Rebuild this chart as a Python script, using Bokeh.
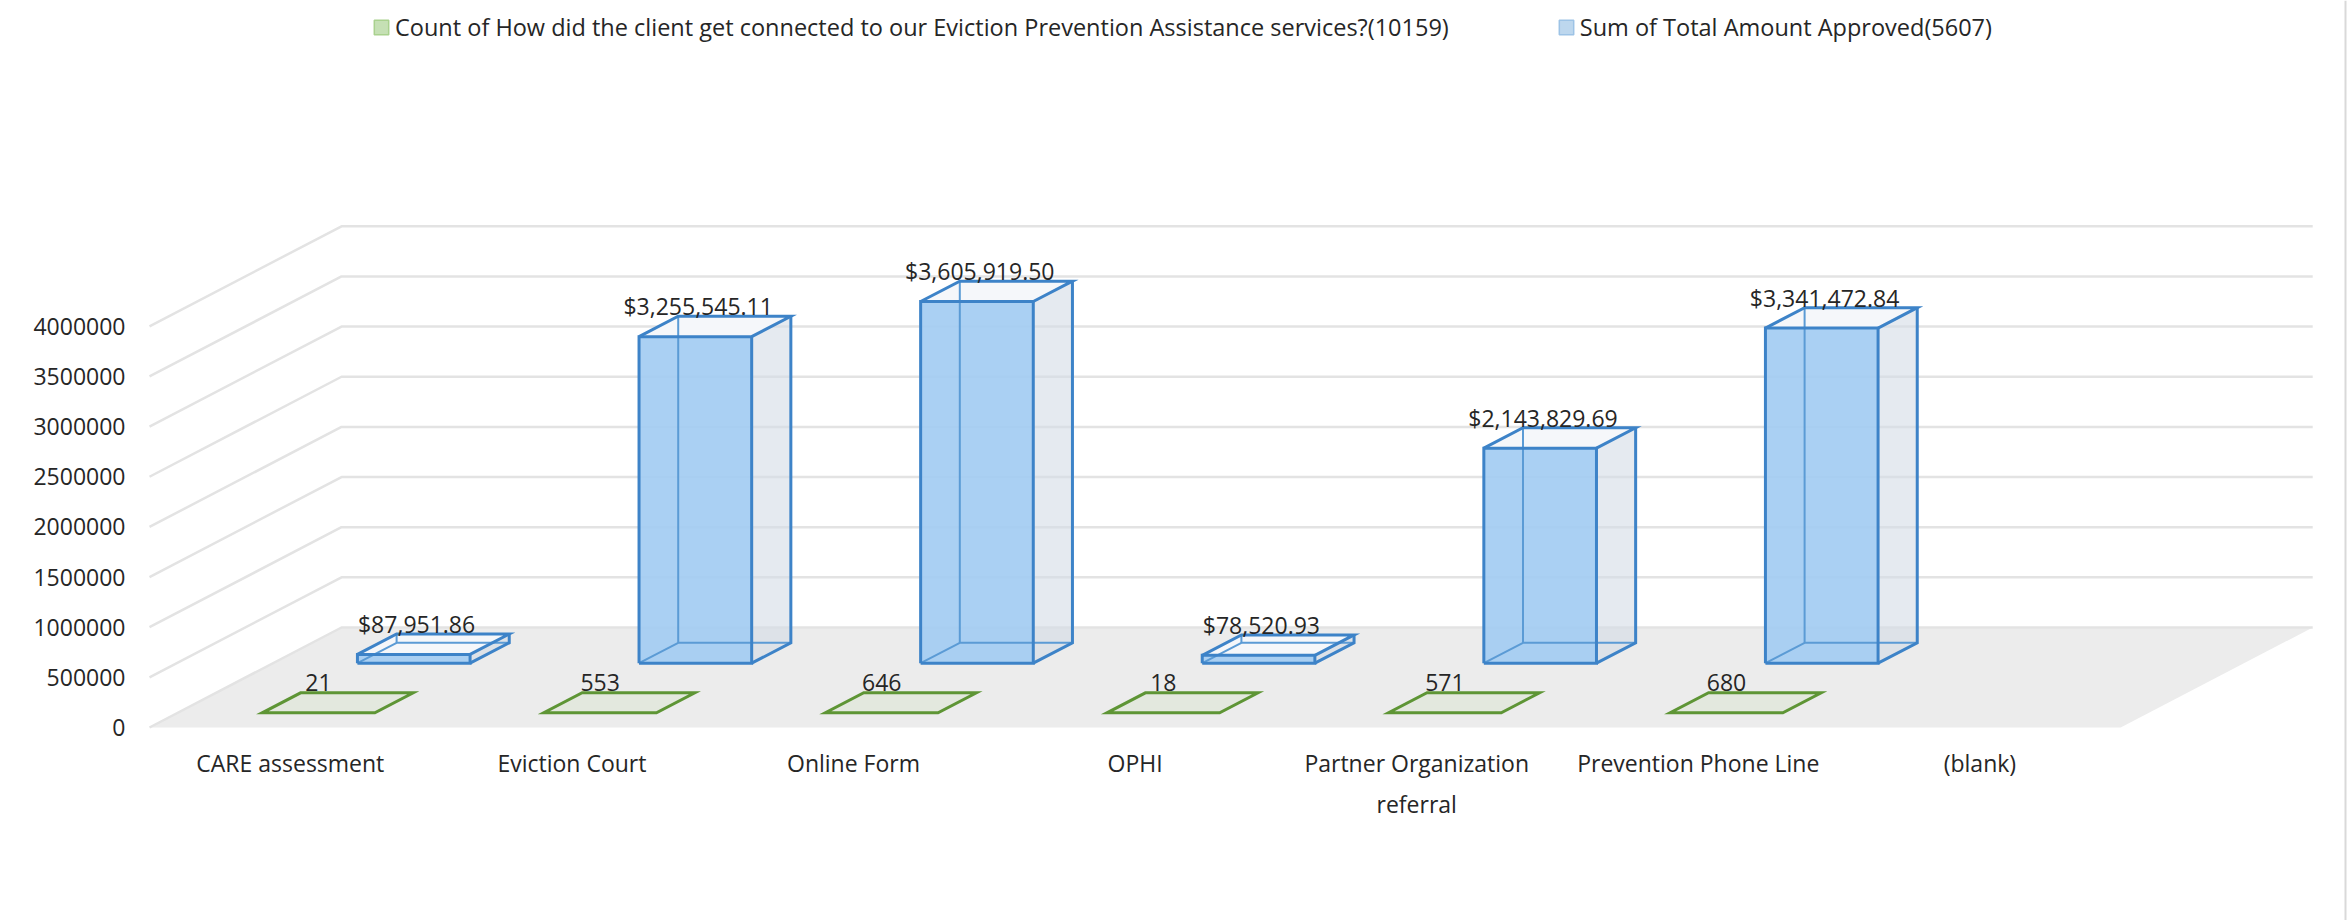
from bokeh.plotting import figure
from bokeh.models import (Range1d, FixedTicker, NumeralTickFormatter, Legend, LegendItem,
                          ColumnDataSource)
from bokeh.embed import file_html
from bokeh.resources import INLINE
from bokeh.core.properties import value

# ---------------- data ----------------
categories = ["CARE assessment", "Eviction Court", "Online Form", "OPHI",
              "Partner Organization referral", "Prevention Phone Line", "(blank)"]
category_labels = ["CARE assessment", "Eviction Court", "Online Form", "OPHI",
                   "Partner Organization\nreferral", "Prevention Phone Line", "(blank)"]
count_values = [21, 553, 646, 18, 571, 680, None]
amount_values = [87951.86, 3255545.11, 3605919.50, 78520.93, 2143829.69, 3341472.84, None]
y_ticks = [0, 500000, 1000000, 1500000, 2000000, 2500000, 3000000, 3500000, 4000000]
legend_labels = ["Count of How did the client get connected to our Eviction Prevention Assistance services?(10159)",
                 "Sum of Total Amount Approved(5607)"]

# ---------------- layout / style ----------------
FONT = "Open Sans"
FS = "23px"
TXT = "#262626"
FIG_W, FIG_H = 2351, 920
FRAME_LEFT = 139           # page px
FLOOR_X0 = 149             # page px of category origin
CAT_PX = 281.6             # px per category
ZERO_Y = 727               # page px of value 0 on front plane
PPU = 100.3 / 1e6          # px per value unit
DEPTH_DX_PX, DEPTH_DY_PX = 192.0, 100.0
DX_D = DEPTH_DX_PX / CAT_PX
DY_D = DEPTH_DY_PX / PPU
HW = 0.2
GREEN_D = (0.147, 0.347)
BLUE_D = (0.643, 0.847)
LABEL_LIFT = -10           # px, data labels sit just above the box top


def px_to_x(px):
    return (px - FLOOR_X0) / CAT_PX


def py_to_y(py):
    return (ZERO_Y - py) / PPU


def P(x, v, d):
    return x + d * DX_D, v + d * DY_D


N = len(categories)

p = figure(width=FIG_W, height=FIG_H,
           x_range=Range1d(px_to_x(FRAME_LEFT), px_to_x(FIG_W)),
           y_range=Range1d(py_to_y(FIG_H), py_to_y(0)),
           output_backend="svg", toolbar_location=None, x_axis_location=None,
           min_border_left=FRAME_LEFT, min_border_right=0,
           min_border_top=0, min_border_bottom=0, outline_line_color=None)
p.xgrid.visible = False
p.ygrid.visible = False

ax = p.yaxis[0]
ax.ticker = FixedTicker(ticks=y_ticks)
ax.formatter = NumeralTickFormatter(format="0")
ax.axis_line_color = None
ax.major_tick_line_color = None
ax.minor_tick_line_color = None
ax.major_tick_out = 0
ax.major_tick_in = 0
ax.major_label_standoff = 14
ax.major_label_text_font = FONT
ax.major_label_text_font_size = FS
ax.major_label_text_color = TXT

# floor
fx, fy = zip(*[P(0, 0, 0), P(N, 0, 0), P(N, 0, 1), P(0, 0, 1)])
p.patch(list(fx), list(fy), fill_color="#ECECEC", line_color=None)

# gridlines (side wall + back wall)
gxs, gys = [], []
for t in y_ticks:
    pts = [P(0, t, 0), P(0, t, 1), P(N, t, 1)]
    gxs.append([a for a, b in pts]); gys.append([b for a, b in pts])
p.multi_line(gxs, gys, line_color="#E3E3E3", line_width=2.5)

# green (count) flat boxes
gx, gy, glx, gly, gtxt = [], [], [], [], []
for i, c in enumerate(count_values):
    if c is None:
        continue
    cx = i + 0.5
    d0, d1 = GREEN_D
    pts = [P(cx - HW, c, d0), P(cx + HW, c, d0), P(cx + HW, c, d1), P(cx - HW, c, d1)]
    gx.append([a for a, b in pts]); gy.append([b for a, b in pts])
    lx, _ = P(cx, c, d0)
    _, ly = P(cx, c, d1)
    glx.append(lx); gly.append(ly); gtxt.append(f"{c}")
p.patches(gx, gy, fill_color="#E3E8DE", line_color="#5E9535", line_width=3, line_join="miter")
p.text(glx, gly, text=gtxt, text_font=value(FONT), text_font_size=FS, text_color=TXT,
       text_align="center", text_baseline="middle", y_offset=LABEL_LIFT)

# blue (amount) boxes
fr_x, fr_y, sd_x, sd_y, tp_x, tp_y = [], [], [], [], [], []
vis_x, vis_y, hid_x, hid_y = [], [], [], []
blx, bly, btxt = [], [], []


def poly(pts, xs, ys):
    xs.append([q[0] for q in pts]); ys.append([q[1] for q in pts])


for i, a in enumerate(amount_values):
    if a is None:
        continue
    cx = i + 0.5
    d0, d1 = BLUE_D
    L, R = cx - HW, cx + HW
    poly([P(L, 0, d0), P(R, 0, d0), P(R, a, d0), P(L, a, d0)], fr_x, fr_y)
    poly([P(R, 0, d0), P(R, 0, d1), P(R, a, d1), P(R, a, d0)], sd_x, sd_y)
    poly([P(L, a, d0), P(R, a, d0), P(R, a, d1), P(L, a, d1)], tp_x, tp_y)
    # hidden edges (seen through the translucent faces)
    poly([P(L, 0, d0), P(L, 0, d1), P(R, 0, d1)], hid_x, hid_y)
    poly([P(L, 0, d1), P(L, a, d1)], hid_x, hid_y)
    # visible edges
    poly([P(L, 0, d0), P(R, 0, d0), P(R, a, d0), P(L, a, d0), P(L, 0, d0)], vis_x, vis_y)
    poly([P(L, a, d0), P(L, a, d1), P(R, a, d1), P(R, a, d0)], vis_x, vis_y)
    poly([P(R, 0, d0), P(R, 0, d1), P(R, a, d1)], vis_x, vis_y)
    lx, _ = P(cx, a, d0)
    _, ly = P(cx, a, d1)
    blx.append(lx + 0.01); bly.append(ly); btxt.append(f"${a:,.2f}")

p.patches(sd_x, sd_y, fill_color="#D3DCE6", fill_alpha=0.6, line_color=None)
p.patches(tp_x, tp_y, fill_color="#F5F7FA", line_color=None)
p.patches(fr_x, fr_y, fill_color="#A3CCF2", fill_alpha=0.92, line_color=None)
p.multi_line(hid_x, hid_y, line_color="#5B9BD5", line_width=2)
p.multi_line(vis_x, vis_y, line_color="#3D83C8", line_width=3, line_join="miter")
p.text(blx, bly, text=btxt, text_font=value(FONT), text_font_size=FS, text_color=TXT,
       text_align="center", text_baseline="middle", y_offset=LABEL_LIFT)

# category labels
p.text([i + 0.5 for i in range(N)], [py_to_y(746)] * N, text=category_labels,
       text_font=value(FONT), text_font_size=FS, text_color=TXT,
       text_align="center", text_baseline="top", text_line_height=1.3)

# chart-area border (right edge)
p.line([px_to_x(2345)] * 2, [py_to_y(0), py_to_y(FIG_H)],
       line_color="#D9D9D9", line_width=2)

# legend (swatches only; NaN rows draw nothing in the plot)
nan = float("nan")
src_leg = ColumnDataSource(dict(left=[nan], right=[nan], top=[nan], bottom=[nan]))
r1 = p.quad(left="left", right="right", top="top", bottom="bottom", source=src_leg,
            fill_color="#C5E0B4", line_color="#A9D18E", line_width=1.5)
r2 = p.quad(left="left", right="right", top="top", bottom="bottom", source=src_leg,
            fill_color="#BDD7EE", line_color="#9DC3E6", line_width=1.5)
legend = Legend(items=[LegendItem(label=legend_labels[0], renderers=[r1], index=0),
                       LegendItem(label=legend_labels[1], renderers=[r2], index=0)],
                orientation="horizontal", location=(233, FIG_H - 12 - 31),
                glyph_width=18, glyph_height=18, label_standoff=5, spacing=108,
                padding=0, margin=0, border_line_color=None, background_fill_alpha=0,
                label_text_font=FONT, label_text_font_size="23.5px", label_text_color=TXT)
p.add_layout(legend, "center")

open("out.html", "w").write(file_html(p, INLINE))
